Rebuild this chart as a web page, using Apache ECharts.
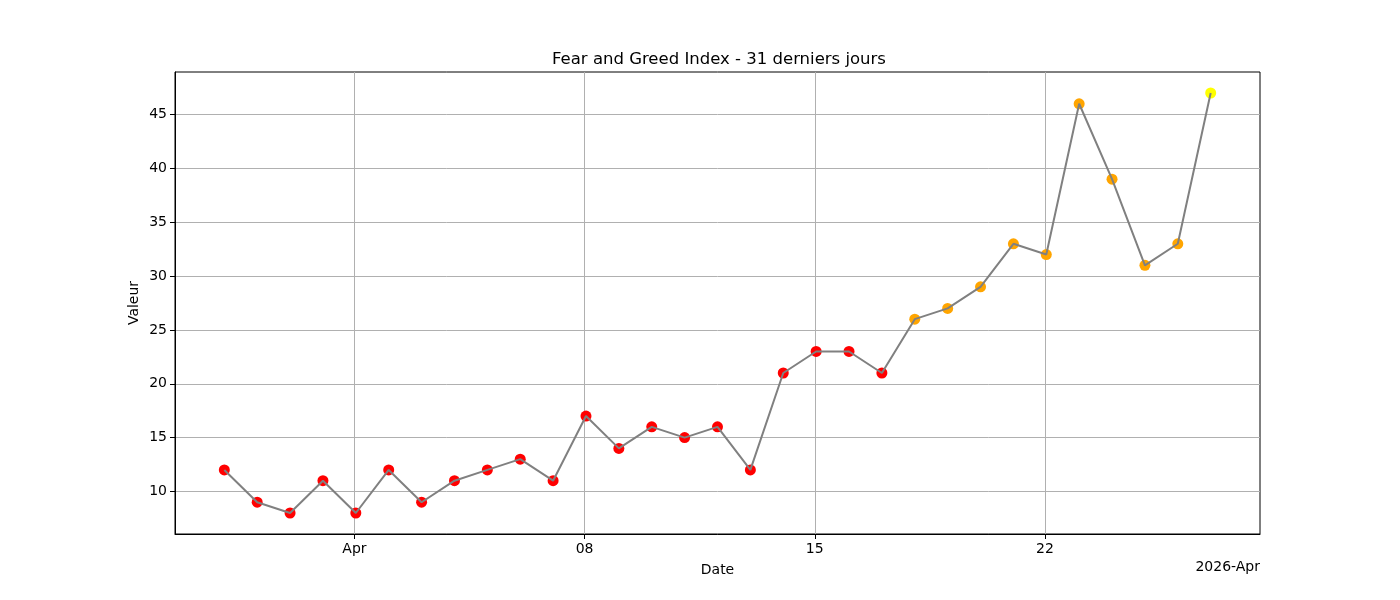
<!DOCTYPE html>
<html lang="fr">
<head>
<meta charset="UTF-8">
<title>Fear and Greed Index</title>
<script src="https://cdn.jsdelivr.net/npm/echarts@6/dist/echarts.min.js"></script>
<style>
  html, body { margin: 0; padding: 0; background: #fff; }
  #chart { width: 1400px; height: 600px; }
</style>
</head>
<body>
<div id="chart"></div>
<script>
// donnees (28 mars -> 27 avril 2026)
var firstDate = '2026-03-28';
var values = [12, 9, 8, 11, 8, 12, 9, 11, 12, 13, 11, 17, 14, 16, 15, 16,
              12, 21, 23, 23, 21, 26, 27, 29, 33, 32, 46, 39, 31, 33, 47];
var levels = ['EF','EF','EF','EF','EF','EF','EF','EF','EF','EF','EF','EF','EF','EF','EF','EF',
              'EF','EF','EF','EF','EF','F','F','F','F','F','F','F','F','F','N'];
var levelColors = { EF: '#ff0000', F: '#ffa500', N: '#ffff00' };

// ticks de l'axe x : jours depuis le 1er avril
var xTicks = [0, 7, 14, 21];
var xTickLabels = ['Apr', '08', '15', '22'];
var yTicks = [10, 15, 20, 25, 30, 35, 40, 45];

var refDay = Date.UTC(2026, 3, 1);
var start = new Date(firstDate + 'T01:00:00Z').getTime();
var offset = (start - refDay) / 86400000;

var linePts = [];
var dots = [];
for (var i = 0; i < values.length; i++) {
    linePts.push([offset + i, values[i]]);
    dots.push({ value: [offset + i, values[i]], itemStyle: { color: levelColors[levels[i]], opacity: 1 } });
}

var font = 'DejaVu Sans';
var chart = echarts.init(document.getElementById('chart'));
chart.setOption({
    animation: false,
    backgroundColor: '#fff',
    title: {
        text: 'Fear and Greed Index - 31 derniers jours',
        left: 547, top: 46,
        textStyle: { fontFamily: font, fontSize: 16.5, fontWeight: 'normal', color: '#000' }
    },
    grid: {
        left: 175, right: 140, top: 72, bottom: 66,
        show: true, borderColor: '#000', borderWidth: 1
    },
    xAxis: {
        type: 'value',
        min: offset - 1.5, max: offset + 31.5,
        name: 'Date', nameLocation: 'middle', nameGap: 29,
        nameTextStyle: { fontFamily: font, fontSize: 14, color: '#000' },
        axisLine: { show: true, onZero: false, lineStyle: { color: '#000', width: 1 } },
        axisTick: { show: true, length: 5, customValues: xTicks, lineStyle: { color: '#000' } },
        axisLabel: {
            customValues: xTicks, margin: 8,
            fontFamily: font, fontSize: 14, color: '#000',
            formatter: function (v) { return xTickLabels[xTicks.indexOf(v)]; }
        },
        splitLine: { show: true, lineStyle: { color: '#b0b0b0', width: 1 } }
    },
    yAxis: {
        type: 'value',
        min: 6.05, max: 48.95,
        name: 'Valeur', nameLocation: 'middle', nameGap: 34, nameMoveOverlap: false,
        nameTextStyle: { fontFamily: font, fontSize: 14, color: '#000' },
        axisLine: { show: true, onZero: false, lineStyle: { color: '#000', width: 1 } },
        axisTick: { show: true, length: 5, customValues: yTicks, lineStyle: { color: '#000' } },
        axisLabel: { customValues: yTicks, margin: 8, fontFamily: font, fontSize: 14, color: '#000' },
        splitLine: { show: true, lineStyle: { color: '#b0b0b0', width: 1 } }
    },
    graphic: [{
        type: 'text', right: 140, top: 560,
        style: { text: '2026-Apr', fontFamily: font, fontSize: 14, fill: '#000' }
    }],
    series: [
        {
            type: 'scatter', data: dots, symbolSize: 11, z: 2
        },
        {
            type: 'line', data: linePts, showSymbol: false, symbol: 'none', z: 3,
            lineStyle: { color: '#808080', width: 2 }
        }
    ]
});
</script>
</body>
</html>
